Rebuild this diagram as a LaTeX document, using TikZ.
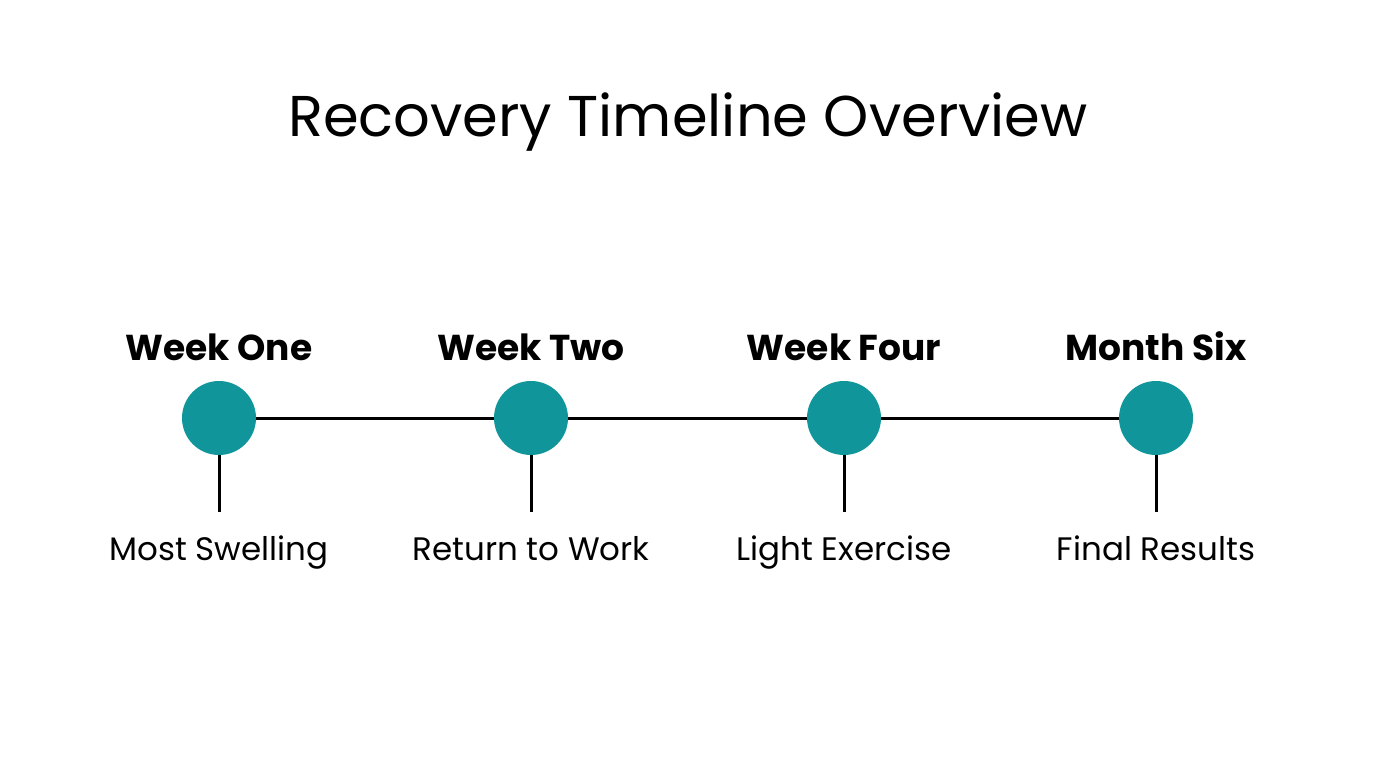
\documentclass[tikz,border=0pt]{standalone}
\usepackage{fontspec}
\setmainfont{Poppins}
\definecolor{teal1}{HTML}{10969A}
\begin{document}
\begin{tikzpicture}[x=1pt,y=-1pt,
  dot/.style={circle,fill=teal1,minimum size=74pt,inner sep=0pt},
  conn/.style={line width=3pt,black},
  head/.style={font=\fontsize{36}{40}\selectfont\bfseries,anchor=base},
  lab/.style={font=\fontsize{32.5}{36}\selectfont,anchor=base}]
\useasboundingbox[fill=white] (0,0) rectangle (1376,768);
\node[font=\fontsize{57.5}{64}\selectfont,anchor=base] (title) at (688,136) {Recovery Timeline Overview};
\foreach \i/\x/\h/\l in {1/219/Week One/Most Swelling,2/531/Week Two/Return to Work,3/844/Week Four/Light Exercise,4/1156/Month Six/Final Results}{
  \node[dot] (d\i) at (\x,418) {};
  \node[head] (h\i) at (\x,360) {\h};
  \coordinate (e\i) at (\x,512);
  \node[lab] (l\i) at (\x,560) {\l};
}
\draw[conn] (d1) -- (d2);
\draw[conn] (d2) -- (d3);
\draw[conn] (d3) -- (d4);
\foreach \i in {1,2,3,4}{\draw[conn] (d\i.south) -- (e\i);}
\end{tikzpicture}
\end{document}
